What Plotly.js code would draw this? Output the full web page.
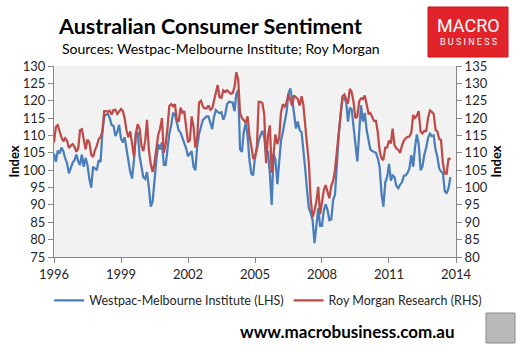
<!DOCTYPE html>
<html>
<head>
<meta charset="utf-8">
<script src="https://cdn.plot.ly/plotly-3.0.1.min.js"></script>
<style>
html,body{margin:0;padding:0;background:#fff;}
#chart{width:530px;height:363px;}
</style>
</head>
<body>
<div id="chart"></div>
<script>
// Monthly series, Jan 1996 onwards
const westpac = [
104.8,102.4,105.6,104.8,106.5,105.5,103.5,102,99.1,100.8,102.2,102.9,104.5,102.5,101.5,104.5,101,103.5,101.5,97.5,95,101,100.5,100,102.9,102.4,110.5,115.5,116,116.2,115,113,112.8,
109.8,111,113.1,109,108,109.5,106,102.5,99.5,97.6,102.9,110.5,111,104,101.5,98,97.5,99.5,95,89.5,91,98,102.9,107.5,106,108,101.5,101.5,106,110.5,113,116.5,116,113.5,111.5,110.8,109.5,108,106.3,104,105,105.5,101,100,107,110.5,112.5,114.5,115,115.5,115.5,113.5,111.8,115.3,117.3,116.8,116.4,116.7,114.5,116,119,119.7,119.5,
119.5,117,122,123,106,105.3,111,113.5,110,103,99,98.5,104,106,108.5,110,111.3,109.5,104,105.5,99,90,104.8,103,96,102.5,108.5,111,113.5,116.8,122,123.5,120.5,116,112,114,111.5,111,104.8,100.5,94.5,89,87.7,85.5,79,84,89,84,84,88.5,90.2,88.5,85.6,85.8,91.4,93,102,110,116,120.4,120.8,119.5,114,118,117.5,
113,108.5,102.5,111,118.7,114,116.5,111.5,108,106,105.5,105.3,105,103.5,101,93.2,89.5,96.5,98,101.8,97,98.5,98,95.5,94.8,95.8,96.5,98.4,98.5,99.3,100.5,104.3,101,106.5,110.3,107.5,100,101,104.5,106.5,109.3,110.5,109.8,110,105.8,104,100.5,99.6,99.2,94,93.3,94.8,98
];
const royMorgan = [
113,117.5,118,115.8,114.5,113.3,114.2,113.5,111.4,112,112.5,111.8,110.3,111.3,116.5,116.8,113.5,111,113.8,113,109.5,108.8,110.8,112,113.9,114.6,116,122,122,121.8,122.1,121,122.3,
122.4,121.2,122,122.6,122,120,116.5,114.5,116.2,111.8,108.9,115.5,118.2,117,112,110.5,113.5,119.5,110.8,106.8,104.5,107,110.8,115.2,117,120,110,112.5,117.5,123.5,124,123.4,124,119.5,119,123,121.5,122,117.5,113,113.7,120.5,117.5,111.5,114.5,124.5,125,123.3,122.8,122.8,123.6,122.4,122.8,125,126.6,129.5,126,125.8,128,127.5,128,127.5,127,
127.2,129,133.2,131,121.5,120,119.4,118.7,120.5,115,112,108.5,108.5,112,124.7,124.7,124.3,121,107,115,117.9,104.3,109.9,115.3,112.5,114.5,121.5,124,123.3,124.5,127,125.5,123.5,126.5,126.1,125.5,123.6,126.3,124,117,112.5,107,96.4,91.5,93.3,96,100.2,92.3,96.5,99.3,100.7,98.7,96.9,100.5,101.9,105,110.8,116.5,123,126.3,126.8,125.2,124.2,128.4,127.5,
124.5,120,120.5,124.8,125.7,125.5,126.5,123.5,121.3,121.5,120.5,119.2,119.2,116,110.5,108.4,107.9,111.5,111.5,113.5,112.7,117,112.2,111.3,110.9,110,112,113.5,114.2,114.6,114.7,115.8,120.9,120,120.7,122,116,115.6,116.3,116.3,120,122.2,121.8,121.2,116.6,116.2,114,113.7,107,104,104,108.5,108
];
const tickYears = ['1996','1999','2002','2005','2008','2011','2014'];
const seriesNames = ['Westpac-Melbourne Institute (LHS)', 'Roy Morgan Research (RHS)'];

function monthDates(n){
  const out=[];
  for(let i=0;i<n;i++){
    const y=1996+Math.floor(i/12), m=(i%12)+1;
    out.push(y+'-'+(m<10?'0':'')+m+'-01');
  }
  return out;
}

const FONT = 'Lato, "Open Sans", sans-serif';
const axisCol = '#868686';
const tickFont = {family: FONT, size: 13, color: '#262626'};

const traces = [
  {x: monthDates(westpac.length), y: westpac, name: seriesNames[0], type:'scatter', mode:'lines',
   line:{color:'#4a7ebb', width:2.25}, yaxis:'y'},
  {x: monthDates(royMorgan.length), y: royMorgan, name: seriesNames[1], type:'scatter', mode:'lines',
   line:{color:'#be4b48', width:2.25}, yaxis:'y2'}
];

const layout = {
  width:530, height:363,
  margin:{l:54, r:74, t:66, b:106, pad:0},
  paper_bgcolor:'#ffffff', plot_bgcolor:'#f2f2f2',
  font:{family:FONT, color:'#262626'},
  title:{text:'<b>Australian Consumer Sentiment</b>', x:59/530, xanchor:'left', xref:'container',
         y:1-26/363, yanchor:'middle', yref:'container', font:{family:FONT, size:21.5, color:'#000'}},
  xaxis:{type:'date', range:['1996-01-01','2014-01-01'],
         tickvals: tickYears.map(y=>y+'-01-01'), ticktext: tickYears,
         ticks:'outside', ticklen:5, tickcolor:axisCol, tickwidth:1,
         showline:true, linecolor:axisCol, linewidth:1, showgrid:false, zeroline:false,
         tickfont:tickFont, fixedrange:true},
  yaxis:{range:[75,130], tick0:75, dtick:5, ticks:'outside', ticklen:5, tickcolor:axisCol,
         showline:true, linecolor:axisCol, linewidth:1, showgrid:false, zeroline:false,
         tickfont:tickFont, title:{text:'Index', standoff:0, font:{family:FONT, size:13, weight:'bold', color:'#000'}},
         fixedrange:true},
  yaxis2:{range:[80,135], tick0:80, dtick:5, overlaying:'y', side:'right', ticks:'outside', ticklen:5,
          tickcolor:axisCol, showline:true, linecolor:axisCol, linewidth:1, showgrid:false, zeroline:false,
          tickfont:tickFont, title:{text:'Index', standoff:2, font:{family:FONT, size:13, weight:'bold', color:'#000'}},
          fixedrange:true},
  showlegend:true,
  legend:{orientation:'h', x:-0.012, xanchor:'left', y:-0.15, yanchor:'top',
          font:{family:FONT, size:12.5, color:'#262626'}, bgcolor:'rgba(0,0,0,0)', itemwidth:30},
  shapes:[
    {type:'rect', xref:'paper', yref:'paper', x0:(428-54)/402, x1:(508-54)/402, y0:(257-57)/191, y1:(257-7)/191,
     fillcolor:'#e3232a', line:{color:'#c8161d', width:1}},
    {type:'rect', xref:'paper', yref:'paper', x0:(486-54)/402, x1:(515-54)/402, y0:(257-343)/191, y1:(257-313)/191,
     fillcolor:'#b9b9b9', line:{color:'#8a8a8a', width:1}}
  ],
  annotations:[
    {text:'Sources: Westpac-Melbourne Institute; Roy Morgan', xref:'paper', yref:'paper',
     x:(60-54)/402, xanchor:'left', y:(257-49)/191, yanchor:'middle', showarrow:false,
     font:{family:FONT, size:14, color:'#000'}},
    {text:'MACRO', xref:'paper', yref:'paper', x:(468-54)/402, xanchor:'center', y:(257-25)/191, yanchor:'middle',
     showarrow:false, font:{family:'Roboto, sans-serif', size:18, color:'#ffffff'}},
    {text:'B U S I N E S S', xref:'paper', yref:'paper', x:(468-54)/402, xanchor:'center', y:(257-42)/191, yanchor:'middle',
     showarrow:false, font:{family:'Roboto, sans-serif', size:9, color:'#ffffff'}},
    {text:'<b>www.macrobusiness.com.au</b>', xref:'paper', yref:'paper', x:(347-54)/402, xanchor:'center',
     y:(257-331)/191, yanchor:'middle', showarrow:false, font:{family:FONT, size:17, color:'#000'}}
  ]
};

Plotly.newPlot('chart', traces, layout, {displayModeBar:false, staticPlot:true});
</script>
</body>
</html>
